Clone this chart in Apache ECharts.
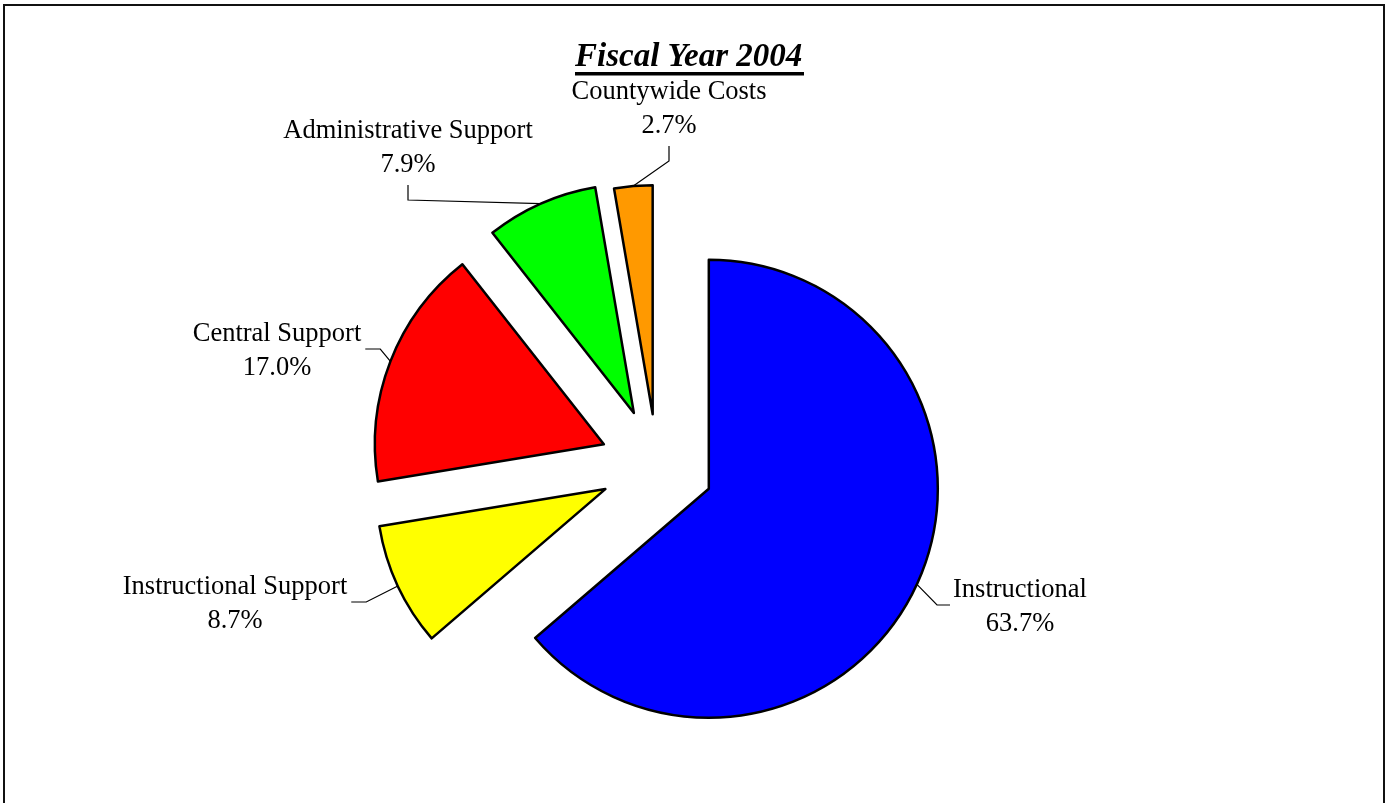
<!DOCTYPE html>
<html>
<head>
<meta charset="utf-8">
<script src="https://cdn.jsdelivr.net/npm/echarts@6/dist/echarts.min.js"></script>
<style>
  html, body { margin: 0; padding: 0; background: #fff; }
  #chart { width: 1388px; height: 803px; }
</style>
</head>
<body>
<div id="chart"></div>
<script>
// Fiscal Year 2004 spending shares, in percent
const categories = ['Instructional', 'Instructional Support', 'Central Support', 'Administrative Support', 'Countywide Costs'];
const shares = [63.7, 8.7, 17.0, 7.9, 2.7];
const sliceColors = ['#0000ff', '#ffff00', '#ff0000', '#00ff00', '#ff9900'];

// Exploded pie geometry
const PIE_CENTER = [657, 465];
const PIE_RADIUS = 229;
const explodeBy = [57, 57, 57, 57, 51];
const FONT = '"Liberation Serif", "Times New Roman", Times, serif';
const LABEL_SIZE = 26.5;
const LABEL_LINE_HEIGHT = 34;

// Centre of each two-line label and the side its leader line leaves from
const labelPlacement = [
  { x: 1020, y: 607, side: 'left' },
  { x: 235, y: 604, side: 'right' },
  { x: 277, y: 351, side: 'right' },
  { x: 408, y: 148, side: 'bottom' },
  { x: 669, y: 109, side: 'bottom' }
];

const total = shares.reduce((a, b) => a + b, 0);
const midAngles = [];
let acc = 0;
shares.forEach(v => { midAngles.push((acc + v / 2) / total * 2 * Math.PI); acc += v; });
const dirOf = a => [Math.sin(a), -Math.cos(a)];

// One pie series per slice so each slice can be pushed out along its own bisector
const series = categories.map((name, i) => {
  const d = dirOf(midAngles[i]);
  const c = [PIE_CENTER[0] + explodeBy[i] * d[0], PIE_CENTER[1] + explodeBy[i] * d[1]];
  const edge = [c[0] + PIE_RADIUS * d[0], c[1] + PIE_RADIUS * d[1]];
  const place = labelPlacement[i];
  return {
    type: 'pie',
    name: name,
    center: c,
    radius: [0, PIE_RADIUS],
    startAngle: 90,
    clockwise: true,
    silent: true,
    animation: false,
    avoidLabelOverlap: false,
    data: categories.map((n, j) => j === i ? {
      name: n,
      value: shares[j],
      itemStyle: { color: sliceColors[j], borderColor: '#000', borderWidth: 2.5 },
      label: {
        show: true,
        position: 'outside',
        formatter: p => p.name + '\n' + p.value.toFixed(1) + '%',
        fontFamily: FONT,
        fontSize: LABEL_SIZE,
        lineHeight: LABEL_LINE_HEIGHT,
        color: '#000',
        align: 'center'
      },
      labelLine: { show: true, lineStyle: { color: '#000', width: 1.2 } }
    } : {
      name: n,
      value: shares[j],
      itemStyle: { color: 'rgba(0,0,0,0)', borderWidth: 0 },
      label: { show: false },
      labelLine: { show: false }
    }),
    labelLayout: p => {
      if (p.dataIndex !== i) return {};
      const w = p.labelRect.width;
      const h = LABEL_LINE_HEIGHT * 2;
      let end, bend;
      if (place.side === 'bottom') {
        end = [place.x, place.y + h / 2 + 3];
        bend = [place.x, end[1] + 15];
      } else if (place.side === 'right') {
        end = [place.x + w / 2 + 4, place.y - 2];
        bend = [end[0] + 15, end[1]];
      } else {
        end = [place.x - w / 2 - 3, place.y - 2];
        bend = [end[0] - 13, end[1]];
      }
      return {
        x: place.x,
        y: place.y,
        align: 'center',
        verticalAlign: 'middle',
        labelLinePoints: [edge, bend, end]
      };
    }
  };
});

const chart = echarts.init(document.getElementById('chart'), null, { renderer: 'canvas' });
chart.setOption({
  animation: false,
  backgroundColor: '#fff',
  title: {
    text: 'Fiscal Year 2004',
    left: 570,
    top: 36,
    textStyle: {
      fontFamily: FONT,
      fontSize: 33,
      fontStyle: 'italic',
      fontWeight: 'bold',
      color: '#000'
    }
  },
  graphic: [
    // outer frame of the chart area
    {
      type: 'rect',
      shape: { x: 4, y: 5, width: 1380, height: 830 },
      style: { fill: 'none', stroke: '#111', lineWidth: 2 },
      silent: true
    },
    // title underline
    {
      type: 'rect',
      shape: { x: 575, y: 72, width: 229, height: 3.5 },
      style: { fill: '#000' },
      silent: true
    }
  ],
  series: series
});
</script>
</body>
</html>
